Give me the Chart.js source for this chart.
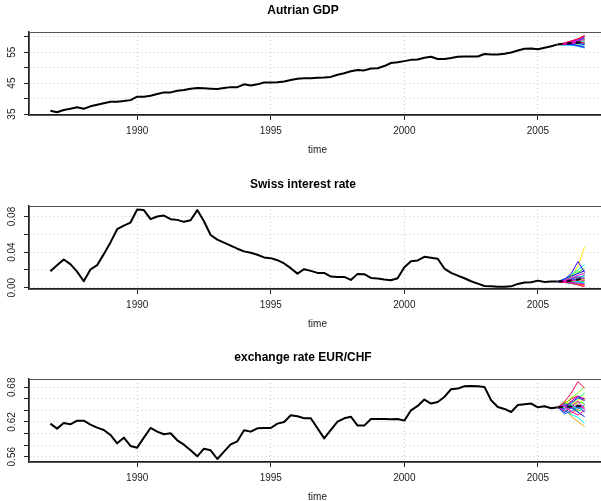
<!DOCTYPE html>
<html>
<head>
<meta charset="utf-8">
<script src="https://cdn.jsdelivr.net/npm/chart.js@4/dist/chart.umd.min.js"></script>
<style>
  body { margin: 0; width: 601px; height: 501px; overflow: hidden; background: #fff; position: relative; }
  canvas { position: absolute; left: 0; }
</style>
</head>
<body>
<canvas id="gdp" width="607" height="156" style="top:0px"></canvas>
<canvas id="rate" width="607" height="156" style="top:174px"></canvas>
<canvas id="fx" width="607" height="156" style="top:347px"></canvas>
<script>
// quarterly series, first observation 1986 Q4
const startYear = 1986.75;
const fcTimes = [2006.0, 2006.25, 2006.5, 2006.75];
const yearTicks = [1990, 1995, 2000, 2005];

const gdp = [36.1, 35.6, 36.3, 36.7, 37.2, 36.7, 37.5, 38.0, 38.5, 39.0, 39.0, 39.2, 39.5,
  40.6, 40.6, 40.9, 41.5, 42.0, 42.0, 42.5, 42.8, 43.2, 43.4, 43.3, 43.2, 43.1, 43.4, 43.7, 43.7,
  44.6, 44.2, 44.6, 45.2, 45.2, 45.3, 45.5, 46.0, 46.4, 46.6, 46.6, 46.7, 46.8, 47.0, 47.7, 48.2,
  48.8, 49.2, 49.1, 49.7, 49.8, 50.5, 51.5, 51.7, 52.1, 52.5, 52.6, 53.2, 53.5, 52.8, 52.8, 53.1,
  53.5, 53.6, 53.6, 53.6, 54.4, 54.2, 54.2, 54.5, 54.9, 55.5, 56.1, 56.2, 55.9, 56.4, 56.9, 57.5];

const rate = [0.0185, 0.0253, 0.0317, 0.0264, 0.0181, 0.0072, 0.0204, 0.0253, 0.0377, 0.0509,
  0.0657, 0.0698, 0.0732, 0.0879, 0.0872, 0.0770, 0.0800, 0.0811, 0.0770, 0.0762, 0.0740, 0.0758,
  0.0872, 0.0747, 0.0592, 0.0540, 0.0506, 0.0472, 0.0438, 0.0408, 0.0392, 0.0370, 0.0340, 0.0332,
  0.0309, 0.0272, 0.0219, 0.0158, 0.0208, 0.0189, 0.0166, 0.0166, 0.0125, 0.0121, 0.0121, 0.0087,
  0.0155, 0.0151, 0.0109, 0.0102, 0.0091, 0.0083, 0.0106, 0.0230, 0.0298, 0.0306, 0.0347, 0.0336,
  0.0325, 0.0215, 0.0166, 0.0136, 0.0106, 0.0072, 0.0045, 0.0019, 0.0015, 0.0011, 0.0011, 0.0015,
  0.0042, 0.0057, 0.0060, 0.0079, 0.0064, 0.0068, 0.0068];

const fx = [0.6171, 0.6085, 0.6183, 0.6160, 0.6223, 0.6223, 0.6154, 0.6102, 0.6062, 0.5975,
  0.5831, 0.5929, 0.5785, 0.5756, 0.5929, 0.6096, 0.6033, 0.5987, 0.6004, 0.5883, 0.5808, 0.5710,
  0.5606, 0.5738, 0.5710, 0.5560, 0.5687, 0.5813, 0.5865, 0.6056, 0.6033, 0.6091, 0.6096, 0.6096,
  0.6171, 0.6200, 0.6316, 0.6298, 0.6264, 0.6264, 0.6091, 0.5917, 0.6062, 0.6206, 0.6264, 0.6292,
  0.6137, 0.6137, 0.6252, 0.6252, 0.6252, 0.6246, 0.6252, 0.6223, 0.6402, 0.6477, 0.6587, 0.6518,
  0.6546, 0.6633, 0.6766, 0.6777, 0.6818, 0.6823, 0.6818, 0.6806, 0.6575, 0.6460, 0.6425, 0.6373,
  0.6494, 0.6506, 0.6518, 0.6454, 0.6471, 0.6437, 0.6454];

// simulated forecast paths (4 quarters ahead)
const gdpPaths = [
  [58.0, 58.6, 59.3, 60.4], [57.7, 58.1, 58.3, 58.8], [57.9, 58.3, 58.9, 59.2], [57.6, 57.9, 58.4, 58.1],
  [57.8, 58.2, 58.5, 59.0], [57.5, 57.7, 57.6, 57.9], [57.9, 58.4, 58.8, 59.5], [57.6, 57.6, 57.9, 58.3],
  [57.7, 58.0, 58.1, 57.6], [57.4, 57.5, 57.3, 56.9], [57.8, 58.0, 58.6, 58.5], [57.3, 57.2, 56.9, 56.3],
  [57.7, 58.3, 58.7, 59.6], [57.4, 57.6, 57.8, 57.4], [57.5, 57.5, 57.1, 56.6], [57.9, 58.5, 59.0, 59.9],
  [57.6, 57.8, 58.1, 57.9], [57.8, 58.3, 58.6, 59.1], [57.6, 58.0, 58.2, 58.0], [57.9, 58.6, 59.2, 60.2]];
const ratePaths = [
  [0.0062, 0.0055, 0.0040, 0.0030], [0.0075, 0.0090, 0.0085, 0.0110], [0.0060, 0.0048, 0.0035, 0.0020],
  [0.0085, 0.0130, 0.0240, 0.0460], [0.0070, 0.0080, 0.0110, 0.0090], [0.0090, 0.0140, 0.0190, 0.0150],
  [0.0080, 0.0120, 0.0170, 0.0220], [0.0065, 0.0070, 0.0060, 0.0075], [0.0072, 0.0100, 0.0130, 0.0120],
  [0.0058, 0.0045, 0.0040, 0.0060], [0.0095, 0.0150, 0.0200, 0.0260], [0.0060, 0.0050, 0.0070, 0.0050],
  [0.0070, 0.0085, 0.0100, 0.0140], [0.0100, 0.0130, 0.0160, 0.0190], [0.0090, 0.0160, 0.0294, 0.0170],
  [0.0075, 0.0095, 0.0120, 0.0100], [0.0062, 0.0060, 0.0050, 0.0040], [0.0080, 0.0110, 0.0140, 0.0160],
  [0.0066, 0.0075, 0.0090, 0.0080], [0.0060, 0.0050, 0.0030, 0.0010]];
const fxPaths = [
  [0.6520, 0.6600, 0.6650, 0.6590], [0.6400, 0.6350, 0.6420, 0.6480], [0.6420, 0.6300, 0.6206, 0.6120],
  [0.6560, 0.6500, 0.6580, 0.6640], [0.6480, 0.6560, 0.6500, 0.6610], [0.6500, 0.6620, 0.6700, 0.6810],
  [0.6380, 0.6450, 0.6550, 0.6520], [0.6530, 0.6480, 0.6380, 0.6450], [0.6450, 0.6520, 0.6610, 0.6700],
  [0.6500, 0.6430, 0.6470, 0.6380], [0.6400, 0.6330, 0.6280, 0.6180], [0.6420, 0.6500, 0.6430, 0.6500],
  [0.6340, 0.6390, 0.6460, 0.6370], [0.6360, 0.6450, 0.6370, 0.6290], [0.6480, 0.6530, 0.6620, 0.6570],
  [0.6430, 0.6560, 0.6640, 0.6600], [0.6510, 0.6440, 0.6500, 0.6420], [0.6390, 0.6470, 0.6560, 0.6420],
  [0.6470, 0.6380, 0.6320, 0.6400], [0.6550, 0.6700, 0.6898, 0.6783]];

// mean forecast
const gdpMean = [57.72, 57.95, 58.12, 58.24];
const rateMean = [0.0073, 0.0080, 0.0092, 0.0106];
const fxMean = [0.6460, 0.6466, 0.6474, 0.6478];

const rainbow = ['#FF0000', '#FF4D00', '#FF9900', '#FFE500', '#CCFF00', '#80FF00', '#33FF00',
  '#00FF19', '#00FF66', '#00FFB2', '#00FFFF', '#00B2FF', '#0066FF', '#0019FF', '#3300FF',
  '#7F00FF', '#CC00FF', '#FF00E5', '#FF0099', '#FF004D'];

Chart.defaults.font.family = "'Liberation Sans', Arial, Helvetica, sans-serif";
Chart.defaults.color = '#000';

// box round the plot region, like R's box()
const boxPlugin = {
  id: 'box',
  afterDraw(chart) {
    const a = chart.chartArea, ctx = chart.ctx;
    ctx.save();
    ctx.setLineDash([]);
    ctx.strokeStyle = '#555';
    ctx.lineWidth = 1;
    ctx.strokeRect(a.left + 0.5, a.top + 0.5, a.right - a.left, a.bottom - a.top);
    ctx.restore();
  }
};

function makePanel(id, title, series, paths, mean, yMin, yMax, yTicks, yLabels, labelPad) {
  const hist = series.map((v, i) => ({ x: startYear + i / 4, y: v }));
  const last = hist[hist.length - 1];
  const datasets = [];
  datasets.push({
    data: [last].concat(mean.map((v, i) => ({ x: fcTimes[i], y: v }))),
    borderColor: '#000', borderWidth: 2, borderDash: [5, 4], order: 0
  });
  paths.forEach((p, k) => {
    datasets.push({
      data: [last].concat(p.map((v, i) => ({ x: fcTimes[i], y: v }))),
      borderColor: rainbow[k], borderWidth: 1, order: paths.length - k
    });
  });
  datasets.push({ data: hist, borderColor: '#000', borderWidth: 2, order: paths.length + 1 });

  const gridOpts = { color: '#c8c8c8', tickColor: '#222', tickBorderDash: [], tickLength: 5 };
  const borderOpts = { color: '#222', width: 1.5, dash: [1, 3] };

  new Chart(document.getElementById(id), {
    type: 'line',
    data: { datasets },
    plugins: [boxPlugin],
    options: {
      responsive: false,
      animation: false,
      layout: { padding: { left: 0, right: 1, top: 0, bottom: 0 } },
      elements: { point: { radius: 0 }, line: { tension: 0, borderJoinStyle: 'round' } },
      plugins: {
        legend: { display: false },
        tooltip: { enabled: false },
        title: {
          display: true, text: title, color: '#000',
          font: { size: 12, weight: 'bold' },
          padding: { top: 3, bottom: 14.6 }
        }
      },
      scales: {
        x: {
          type: 'linear', min: 1985.95, max: 2007.55,
          afterBuildTicks: s => { s.ticks = yearTicks.map(v => ({ value: v })); },
          afterFit: s => { s.height = 41; },
          grid: gridOpts,
          border: borderOpts,
          ticks: { font: { size: 10 }, color: '#222', padding: 5, maxRotation: 0, autoSkip: false,
                   callback: v => String(v) },
          title: { display: true, text: 'time', font: { size: 10 }, color: '#222', padding: 0 }
        },
        y: {
          min: yMin, max: yMax,
          afterBuildTicks: s => { s.ticks = yTicks.map(v => ({ value: v })); },
          afterFit: s => { s.width = 29; },
          grid: gridOpts,
          border: borderOpts,
          ticks: { font: { size: 10 }, color: '#222', minRotation: 90, maxRotation: 90,
                   crossAlign: 'center', padding: labelPad, autoSkip: false,
                   callback: (v, i) => yLabels[i] }
        }
      }
    }
  });
}

makePanel('gdp', 'Autrian GDP', gdp, gdpPaths, gdpMean, 34.7, 61.5,
  [35, 40, 45, 50, 55, 60], ['35', '', '45', '', '55', ''], 6.4);
makePanel('rate', 'Swiss interest rate', rate, ratePaths, rateMean, -0.0015, 0.0918,
  [0, 0.02, 0.04, 0.06, 0.08], ['0.00', '', '0.04', '', '0.08'], 2.3);
makePanel('fx', 'exchange rate EUR/CHF', fx, fxPaths, fxMean, 0.5508, 0.6943,
  [0.56, 0.58, 0.60, 0.62, 0.64, 0.66, 0.68], ['0.56', '', '', '0.62', '', '', '0.68'], 2.3);
</script>
</body>
</html>
